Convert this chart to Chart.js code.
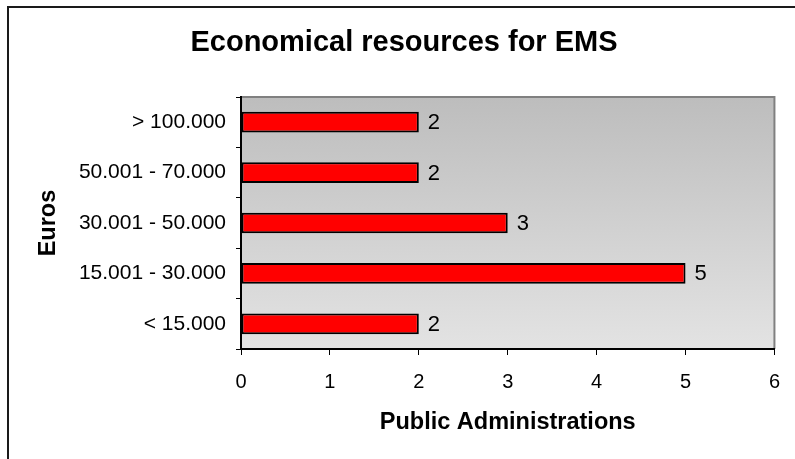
<!DOCTYPE html>
<html>
<head>
<meta charset="utf-8">
<script src="https://cdn.jsdelivr.net/npm/chart.js@4/dist/chart.umd.min.js"></script>
<style>
  html, body { margin: 0; padding: 0; background: #fff; }
  #wrap { width: 795px; height: 459px; position: relative; }
</style>
</head>
<body>
<div id="wrap"><canvas id="c" width="795" height="459"></canvas></div>
<script>
const categories = ["> 100.000", "50.001 - 70.000", "30.001 - 50.000", "15.001 - 30.000", "< 15.000"];
const values = [2, 2, 3, 5, 2];
const xTicks = [0, 1, 2, 3, 4, 5, 6];
const titleText = "Economical resources for EMS";
const xTitle = "Public Administrations";
const yTitle = "Euros";

const FONT = "'Liberation Sans', Arial, sans-serif";

const bgPlugin = {
  id: 'bgPlugin',
  beforeDraw(chart) {
    const { ctx, chartArea: a } = chart;
    ctx.save();
    ctx.strokeStyle = '#1a1a1a';
    ctx.lineWidth = 2;
    ctx.beginPath();
    ctx.moveTo(8, 470);
    ctx.lineTo(8, 7);
    ctx.lineTo(800, 7);
    ctx.stroke();
    const g = ctx.createLinearGradient(0, a.top, 0, a.bottom);
    g.addColorStop(0, '#bdbdbd');
    g.addColorStop(1, '#e3e3e3');
    ctx.fillStyle = g;
    ctx.fillRect(a.left, a.top, a.right - a.left, a.bottom - a.top);
    ctx.strokeStyle = '#808080';
    ctx.lineWidth = 2;
    ctx.beginPath();
    ctx.moveTo(a.left, a.top);
    ctx.lineTo(a.right, a.top);
    ctx.lineTo(a.right, a.bottom);
    ctx.stroke();
    ctx.restore();
  }
};

const labelPlugin = {
  id: 'labelPlugin',
  afterDatasetsDraw(chart) {
    const { ctx } = chart;
    const meta = chart.getDatasetMeta(0);
    ctx.save();
    ctx.fillStyle = '#000';
    ctx.font = '22px ' + FONT;
    ctx.textAlign = 'left';
    ctx.textBaseline = 'middle';
    meta.data.forEach((bar, i) => {
      ctx.fillText(String(values[i]), bar.x + 9, bar.y + 1);
    });
    ctx.restore();
  }
};

new Chart(document.getElementById('c'), {
  type: 'bar',
  data: {
    labels: categories,
    datasets: [{
      data: values,
      backgroundColor: '#ff0000',
      borderColor: '#000000',
      borderWidth: 2,
      borderSkipped: false,
      barPercentage: 0.41,
      categoryPercentage: 1.0
    }]
  },
  options: {
    indexAxis: 'y',
    responsive: false,
    animation: false,
    devicePixelRatio: 1,
    layout: { padding: { left: 33, right: 20, top: 0, bottom: 0 } },
    plugins: {
      legend: { display: false },
      tooltip: { enabled: false },
      title: {
        display: true,
        text: titleText,
        color: '#000',
        font: { family: FONT, size: 29, weight: 'bold', lineHeight: 1.2 },
        padding: { top: 25.5, bottom: 36.7 }
      }
    },
    scales: {
      x: {
        type: 'linear',
        min: 0,
        max: 6,
        afterBuildTicks(scale) { scale.ticks = xTicks.map(v => ({ value: v })); },
        afterFit(scale) { scale.height = 110; },
        ticks: {
          color: '#000',
          font: { family: FONT, size: 20 },
          padding: 15,
          maxRotation: 0,
          callback: (v) => String(v)
        },
        grid: { drawOnChartArea: false, drawTicks: true, tickLength: 6, color: '#000', lineWidth: 1 },
        border: { display: true, color: '#000', width: 2 },
        title: {
          display: true,
          text: xTitle,
          color: '#000',
          font: { family: FONT, size: 23.5, weight: 'bold', lineHeight: 1.2 },
          padding: { top: 0, bottom: 22 }
        }
      },
      y: {
        type: 'category',
        offset: true,
        afterFit(scale) { scale.width = 208; },
        ticks: {
          color: '#000',
          font: { family: FONT, size: 21 },
          padding: 10
        },
        grid: { drawOnChartArea: false, drawTicks: true, tickLength: 5, color: '#000', lineWidth: 1, offset: true },
        border: { display: true, color: '#000', width: 2 },
        title: {
          display: true,
          text: yTitle,
          color: '#000',
          font: { family: FONT, size: 23.5, weight: 'bold', lineHeight: 1.2 },
          padding: { top: 1, bottom: 0 }
        }
      }
    }
  },
  plugins: [bgPlugin, labelPlugin]
});
</script>
</body>
</html>
